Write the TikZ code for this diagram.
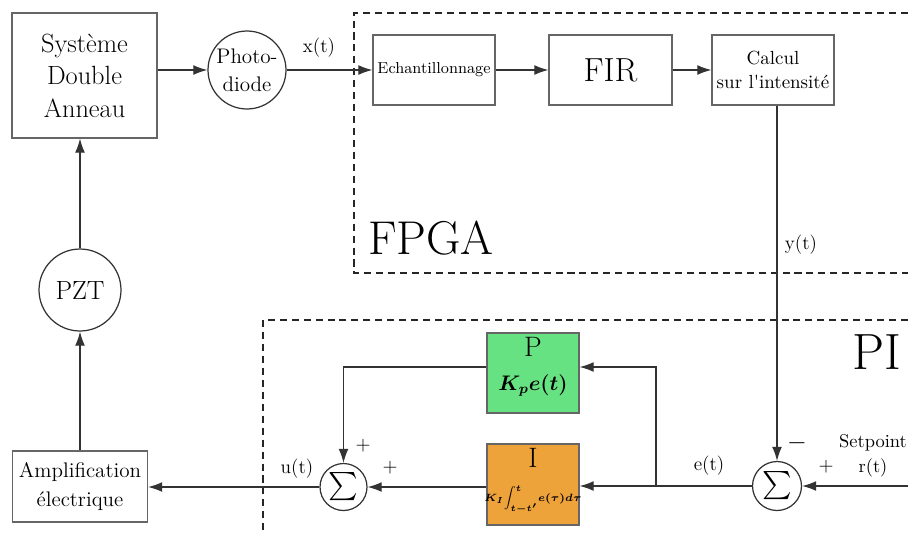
\documentclass[tikz,border=0pt]{standalone}
\usepackage{amsmath,amssymb}
\usepackage{tikz}
\usetikzlibrary{arrows.meta,calc}

\definecolor{pgreen}{RGB}{102,226,130}
\definecolor{iorange}{RGB}{238,162,58}
\tikzset{
  blk/.style={draw=black!60,line width=0.7pt,align=center,inner sep=1pt},
  rnd/.style={circle,draw=black!80,line width=0.7pt,align=center,inner sep=0pt},
  wire/.style={draw=black!80,line width=0.7pt,->},
  zone/.style={draw=black!85,line width=0.8pt,dash pattern=on 4pt off 2.8pt},
  lbl/.style={inner sep=1pt,font=\fontsize{11}{13}\selectfont},
}

\begin{document}
\begin{tikzpicture}[x=0.02cm,y=-0.02cm,>={Latex[length=8pt,width=5.6pt]}]
  \useasboundingbox (0,0) rectangle (908,535);
  \draw[zone] (908,13) -- (354,13) -- (354,273) -- (908,273);
  \draw[zone] (908,320) -- (263,320) -- (263,535);
  \node[font=\fontsize{27}{30}\selectfont] (fpga) at (431,238) {FPGA};
  \node[font=\fontsize{29}{30}\selectfont] (pi) at (877,352) {PI};

  \node[blk,minimum width=2.9cm,minimum height=2.5cm,font=\fontsize{15}{18.5}\selectfont] (sys) at (84.5,75.5) {Système\\Double\\Anneau};
  \node[rnd,minimum size=1.56cm,font=\fontsize{12}{16}\selectfont] (pd) at (247,70) {Photo-\\diode};
  \node[blk,minimum width=2.44cm,minimum height=1.4cm,font=\fontsize{9}{10}\selectfont] (ech) at (434,70) {Echantillonnage};
  \node[blk,minimum width=2.46cm,minimum height=1.4cm,font=\fontsize{19}{20}\selectfont] (fir) at (610.5,70) {FIR};
  \node[blk,minimum width=2.44cm,minimum height=1.4cm,font=\fontsize{10.8}{14}\selectfont] (calc) at (773,70) {Calcul\\sur l\textquotesingle intensité};
  \node[rnd,minimum size=1.64cm,font=\fontsize{15}{16}\selectfont] (pzt) at (80,290) {PZT};
  \node[blk,minimum width=2.7cm,minimum height=1.42cm,font=\fontsize{12}{16}\selectfont] (amp) at (80,486.5) {Amplification\\électrique};

  \node[blk,fill=pgreen,minimum width=1.84cm,minimum height=1.6cm] (pbox) at (533,373) {};
  \node[align=center,inner sep=0pt,font=\fontsize{16}{18}\selectfont] (ptxt) at (533,367) {P\\[1pt]{\fontsize{11.5}{12}\selectfont\boldmath$K_p e(t)$}};
  \node[blk,fill=iorange,minimum width=1.84cm,minimum height=1.62cm] (ibox) at (533,484.5) {};
  \node[align=center,inner sep=0pt,font=\fontsize{16}{18}\selectfont] (itxt) at (533,481) {I\\[1pt]{\fontsize{6}{8}\selectfont\boldmath$\displaystyle K_I\!\int_{t-t'}^{t}\! e(\tau)d\tau$}};
  \node[rnd,minimum size=0.94cm,font=\fontsize{16}{16}\selectfont] (suml) at (343.5,487) {$\sum$};
  \node[rnd,minimum size=0.98cm,font=\fontsize{16}{16}\selectfont] (sumr) at (777,486) {$\sum$};

  \coordinate (br) at (656,486);
  \coordinate (ptap) at (656,367);
  \coordinate (rin) at (908,486);

  \draw[wire] (sys.east |- pd) -- (pd.west);
  \draw[wire] (pd.east) -- (ech.west);
  \draw[wire] (ech.east) -- (fir.west);
  \draw[wire] (fir.east) -- (calc.west);
  \draw[wire] (calc.south -| sumr.north) -- (sumr.north);
  \draw[wire] (rin) -- (sumr.east);
  \draw[wire] (sumr.west) -- (ibox.east |- sumr);
  \draw[wire] (br) -- (ptap) -- (ptap -| pbox.east);
  \draw[wire] (pbox.west |- ptap) -| (suml.north);
  \draw[wire] (ibox.west |- suml) -- (suml.east);
  \draw[wire] (suml.west) -- (amp.east |- suml);
  \draw[wire] (amp.north) -- (pzt.south);
  \draw[wire] (pzt.north) -- (pzt |- sys.south);

  \node[lbl] (xt) at (319,48) {x(t)};
  \node[lbl] (yt) at (801,245) {y(t)};
  \node[lbl] (et) at (709,466) {e(t)};
  \node[lbl] (ut) at (297,469) {u(t)};
  \node[lbl,align=center,font=\fontsize{10.5}{14}\selectfont] (rt) at (873,456) {Setpoint\\r(t)};
  \node[lbl,font=\fontsize{14}{14}\selectfont] (mr) at (797,443) {$-$};
  \node[lbl] (pr) at (826,467) {$+$};
  \node[lbl] (pl1) at (363,446) {$+$};
  \node[lbl] (pl2) at (390,468) {$+$};
\end{tikzpicture}
\end{document}
